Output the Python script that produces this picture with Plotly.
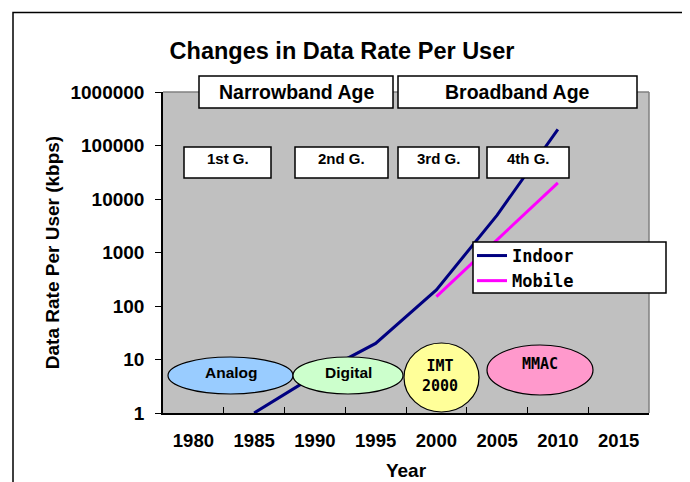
import plotly.graph_objects as go

# ---------------- data ----------------
years = ["1980", "1985", "1990", "1995", "2000", "2005", "2010", "2015"]
indoor_years = ["1985", "1990", "1995", "2000", "2005", "2010"]
indoor_rate = [1, 5, 20, 200, 5000, 200000]
mobile_years = ["2000", "2010"]
mobile_rate = [150, 20000]
y_tickvals = [1, 10, 100, 1000, 10000, 100000, 1000000]
y_ticktext = ["1", "10", "100", "1000", "10000", "100000", "1000000"]

age_labels = ["Narrowband Age", "Broadband Age"]
gen_labels = ["1st G.", "2nd G.", "3rd G.", "4th G."]
tech_labels = ["Analog", "Digital", "IMT<br>2000", "MMAC"]

# ---------------- layout geometry (window pixels) ----------------
OFF = 8  # page body margin
WIN_W, WIN_H = 690, 482
WIDTH, HEIGHT = WIN_W - OFF, WIN_H - OFF
L, R, T, B = 163, 649, 92, 413
PW, PH = R - L, B - T


def px(x):
    return (x - L) / PW


def py(y):
    return (B - y) / PH


SANS = "Liberation Sans, Arial, sans-serif"
MONO = "DejaVu Sans Mono, monospace"

fig = go.Figure()
fig.add_trace(go.Scatter(x=indoor_years, y=indoor_rate, mode="lines", name="Indoor",
                         line=dict(color="#000080", width=3)))
fig.add_trace(go.Scatter(x=mobile_years, y=mobile_rate, mode="lines", name="Mobile",
                         line=dict(color="#FF00FF", width=3)))

shapes = []
annotations = []

# outer frame
shapes.append(dict(type="rect", xref="paper", yref="paper", x0=px(13), x1=px(685),
                   y0=py(520), y1=py(12.5), line=dict(color="black", width=1.5),
                   fillcolor="rgba(0,0,0,0)", layer="above"))
# plot area top / right border (gray)
shapes.append(dict(type="line", xref="paper", yref="paper", x0=0, x1=1, y0=1, y1=1,
                   line=dict(color="#808080", width=1.5), layer="above"))
shapes.append(dict(type="line", xref="paper", yref="paper", x0=1, x1=1, y0=0, y1=1,
                   line=dict(color="#808080", width=1.5), layer="above"))

# age boxes
age_boxes = [(199, 393), (398, 637)]
for (x0, x1), lab in zip(age_boxes, age_labels):
    shapes.append(dict(type="rect", xref="paper", yref="paper", x0=px(x0), x1=px(x1),
                       y0=py(108), y1=py(76), fillcolor="white",
                       line=dict(color="black", width=1.5), layer="above"))
    annotations.append(dict(xref="paper", yref="paper", x=px((x0 + x1) / 2), y=py(92),
                            text=lab, showarrow=False, xanchor="center", yanchor="middle",
                            font=dict(family=SANS, size=19.5, color="black", weight="bold")))

# generation boxes
gen_boxes = [(184, 271), (295, 388), (398, 479), (487, 569)]
for (x0, x1), lab in zip(gen_boxes, gen_labels):
    shapes.append(dict(type="rect", xref="paper", yref="paper", x0=px(x0), x1=px(x1),
                       y0=py(178), y1=py(147), fillcolor="white",
                       line=dict(color="black", width=1.5), layer="above"))
    annotations.append(dict(xref="paper", yref="paper", x=px((x0 + x1) / 2), y=py(158),
                            text=lab, showarrow=False, xanchor="center", yanchor="middle",
                            font=dict(family=SANS, size=15, color="black", weight="bold")))

# technology ellipses
ellipses = [
    ((168, 293, 357, 394), "#99CCFF", (231, 372), SANS, 15.5),
    ((293, 403, 357, 394), "#CCFFCC", (348, 372), SANS, 15.5),
    ((404, 479, 343, 412), "#FFFF99", (440, 376), MONO, 15),
    ((487, 593, 345, 395), "#FF99CC", (540, 364), MONO, 15),
]
for ((x0, x1, y0, y1), col, (tx, ty), fam, fs), lab in zip(ellipses, tech_labels):
    shapes.append(dict(type="circle", xref="paper", yref="paper", x0=px(x0), x1=px(x1),
                       y0=py(y1), y1=py(y0), fillcolor=col,
                       line=dict(color="black", width=1.2), layer="above"))
    annotations.append(dict(xref="paper", yref="paper", x=px(tx), y=py(ty),
                            text=lab, showarrow=False, xanchor="center", yanchor="middle",
                            font=dict(family=fam, size=fs, color="black", weight="bold")))

# legend box
shapes.append(dict(type="rect", xref="paper", yref="paper", x0=px(473), x1=px(666),
                   y0=py(293), y1=py(242), fillcolor="white",
                   line=dict(color="black", width=1.5), layer="above"))

fig.update_layout(
    width=WIDTH, height=HEIGHT,
    margin=dict(l=L - OFF, r=WIN_W - R, t=T - OFF, b=WIN_H - B, autoexpand=False),
    paper_bgcolor="white", plot_bgcolor="#C0C0C0",
    title=dict(text="Changes in Data Rate Per User", x=(342 - OFF) / WIDTH, xanchor="center",
               y=1 - (51 - OFF) / HEIGHT, yanchor="middle",
               font=dict(family=SANS, size=23.5, color="black", weight="bold")),
    showlegend=True,
    legend=dict(x=px(472), y=py(238), xanchor="left", yanchor="top",
                bgcolor="rgba(0,0,0,0)", borderwidth=0,
                font=dict(family=MONO, size=17, color="black", weight="bold")),
    shapes=shapes, annotations=annotations,
    xaxis=dict(type="category", categoryorder="array", categoryarray=years,
               tickvals=years, ticktext=years,
               range=[-0.5, len(years) - 0.5], tickson="boundaries",
               ticks="inside", ticklen=6, tickcolor="black", tickwidth=1.2,
               showline=True, linecolor="black", linewidth=1.5,
               showgrid=False, zeroline=False, ticklabelstandoff=10,
               tickfont=dict(family=SANS, size=18.5, color="black", weight="bold"),
               title=dict(text="Year", standoff=14,
                          font=dict(family=SANS, size=19, color="black", weight="bold"))),
    yaxis=dict(type="log", range=[0, 6], tickvals=y_tickvals, ticktext=y_ticktext,
               ticks="outside", ticklen=6, tickcolor="black", tickwidth=1.2,
               showline=True, linecolor="black", linewidth=1.5,
               showgrid=False, zeroline=False, ticklabelstandoff=7,
               tickfont=dict(family=SANS, size=19, color="black", weight="bold"),
               title=dict(text="Data Rate Per User (kbps)", standoff=6,
                          font=dict(family=SANS, size=19, color="black", weight="bold"))),
)

fig.write_html("out.html")
